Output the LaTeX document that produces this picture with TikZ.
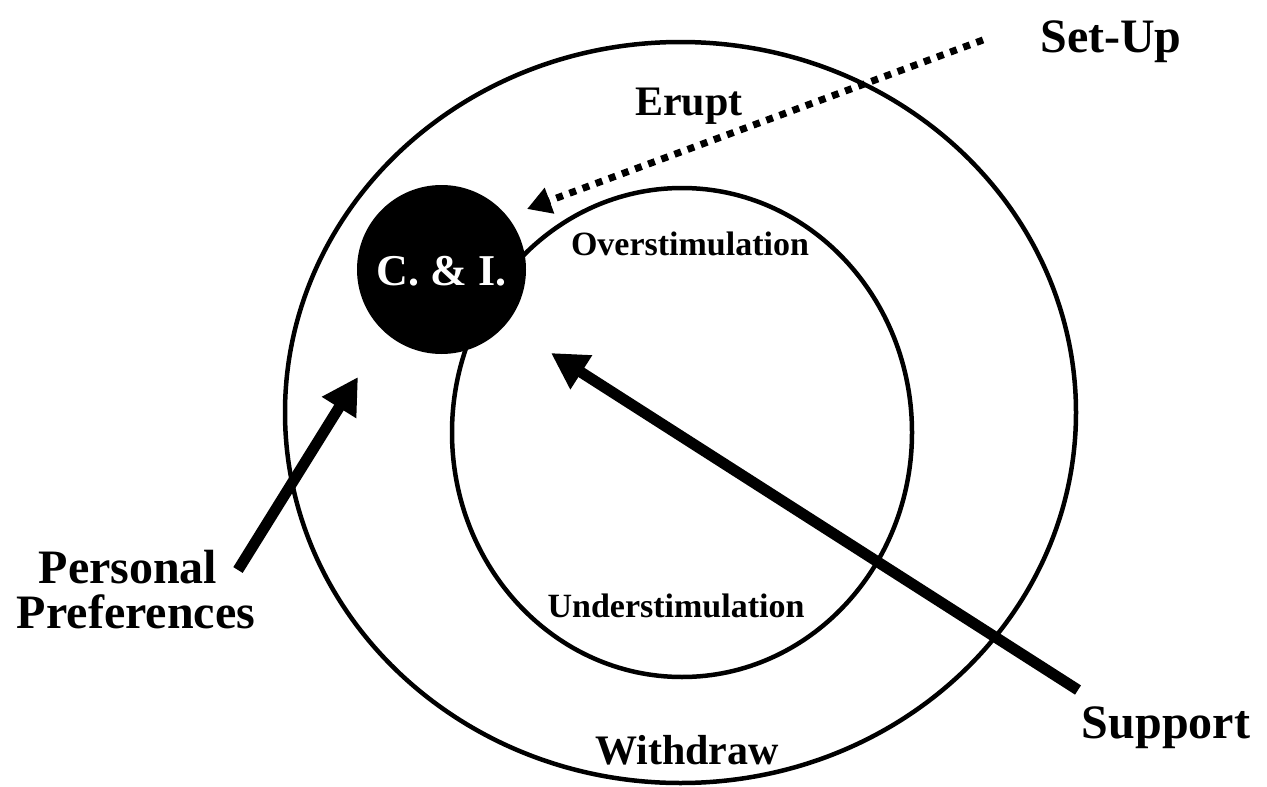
\documentclass[tikz,border=0pt]{standalone}
\usepackage{fontspec}
\setmainfont{Liberation Serif}
\usetikzlibrary{arrows.meta,shapes.geometric}
\begin{document}
\begin{tikzpicture}[x=1pt,y=-1pt,
  ring/.style={draw,ellipse,line width=4.5pt,inner sep=0pt,outer sep=0pt},
  lbl/.style={font=\bfseries\fontsize{42}{50}\selectfont,anchor=base,inner sep=0pt},
  cilbl/.style={font=\bfseries\fontsize{44}{50}\selectfont,anchor=base,inner sep=0pt,text=white},
  biglbl/.style={font=\bfseries\fontsize{48}{56}\selectfont,anchor=base,inner sep=0pt},
  smalllbl/.style={font=\bfseries\fontsize{34}{40}\selectfont,anchor=base,inner sep=0pt},
  thickarrow/.style={line width=11pt,-{Triangle[length=36pt,width=38pt]}},
  dotarrow/.style={line width=7pt,dash pattern=on 7pt off 7pt,-{Triangle[length=24pt,width=26pt]}}
]
\useasboundingbox (0,0) rectangle (1267,787);
% rings
\node[ring,minimum width=791pt,minimum height=741pt] (outer) at (680.5,412.5) {};
\node[ring,minimum width=460pt,minimum height=489pt] (inner) at (682,432.5) {};
% C & I disc
\node[circle,fill=black,minimum size=169pt,inner sep=0pt] (ci) at (441.5,269.5) {};
\node[cilbl] (citext) at (441.5,285) {C. \& I.};
% labels
\node[lbl] (erupt) at (689,115) {Erupt};
\node[smalllbl] (over) at (690,255) {Overstimulation};
\node[smalllbl] (under) at (676,617) {Understimulation};
\node[lbl] (withdraw) at (687,764) {Withdraw};
\node[biglbl] (setup) at (1111,52) {Set-Up};
\node[biglbl] (support) at (1166,738) {Support};
\node[biglbl] (pp1) at (128,583) {Personal};
\node[biglbl] (pp2) at (136,628) {Preferences};
% arrow ends
\coordinate (setupend) at (983,40);
\coordinate (setuptip) at (527,209);
\coordinate (supportend) at (1078,690);
\coordinate (supporttip) at (551,353);
\coordinate (ppend) at (238,570);
\coordinate (pptip) at (358,377);
% arrows
\draw[dotarrow] (setupend) -- (setuptip);
\draw[thickarrow] (supportend) -- (supporttip);
\draw[thickarrow] (ppend) -- (pptip);
\end{tikzpicture}
\end{document}
